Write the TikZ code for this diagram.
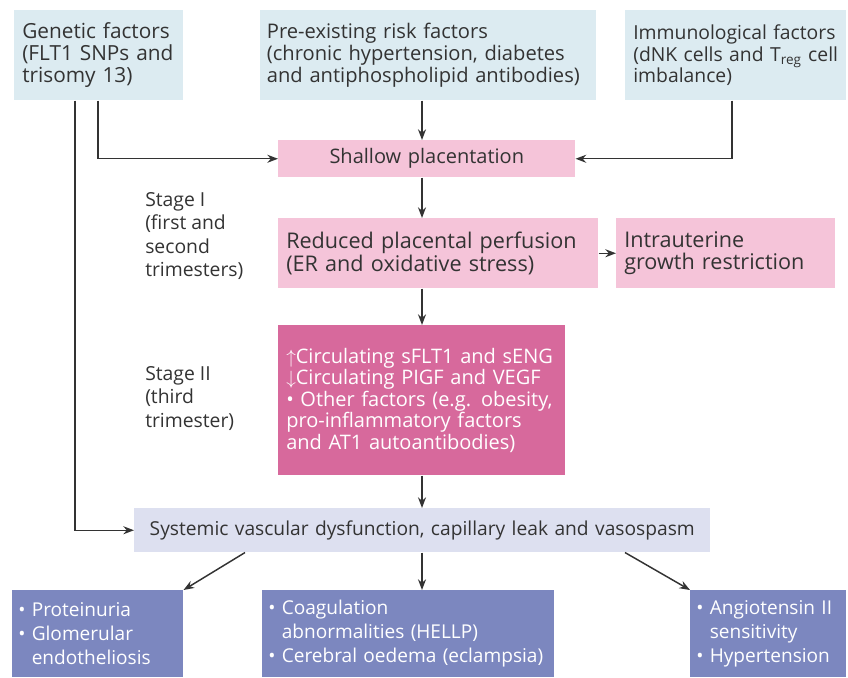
\documentclass[tikz,border=0pt]{standalone}
\usepackage{fontspec}
\setmainfont{Open Sans}
\usetikzlibrary{arrows.meta,positioning}
\definecolor{factorblue}{HTML}{DCEBF1}
\definecolor{placpink}{HTML}{F5C4D9}
\definecolor{stagepink}{HTML}{D7699C}
\definecolor{vascblue}{HTML}{DDE0F0}
\definecolor{organblue}{HTML}{7C87BF}
\definecolor{inkgrey}{HTML}{333333}
\newcommand{\itm}{\textbullet\ }
\newcommand{\cont}{\phantom{\textbullet\ }}

\begin{document}
\begin{tikzpicture}[x=0.75pt, y=-0.75pt, >={Stealth[length=8pt,width=6pt]},
    font=\fontsize{15}{16.2}\selectfont,
    box/.style={rectangle, anchor=north west, align=left, inner xsep=6pt, inner ysep=0pt, text=inkgrey},
    factor/.style={box, fill=factorblue, font=\fontsize{15.6}{16.4}\selectfont},
    plac/.style={box, fill=placpink, font=\fontsize{16.2}{17}\selectfont},
    stagebox/.style={box, fill=stagepink, text=white},
    organ/.style={box, fill=organblue, text=white, inner xsep=4.5pt, font=\fontsize{14.3}{18}\selectfont},
    label/.style={anchor=north west, align=left, inner sep=0pt, text=inkgrey, font=\fontsize{14.5}{17.6}\selectfont},
    link/.style={->, draw=inkgrey, line width=1.1pt}]
    \useasboundingbox (0,0) rectangle (848,677);
    % risk factors
    \node[factor, text width=114.75pt, minimum height=67.5pt] (gen) at (14,10) {Genetic factors\\(FLT1 SNPs and\\trisomy 13)};
    \node[factor, text width=242pt, minimum height=67.5pt, inner xsep=5pt, font=\fontsize{15.1}{16.4}\selectfont] (risk) at (260,10) {Pre-existing risk factors\\(chronic hypertension, diabetes\\and antiphospholipid antibodies)};
    \node[factor, text width=153.75pt, minimum height=67.5pt, font=\fontsize{14.5}{16.4}\selectfont] (immu) at (625,10) {Immunological factors\\(dNK cells and T\textsubscript{reg} cell\\imbalance)};
    % placenta
    \node[plac, align=center, text width=210.75pt, minimum height=27.75pt, font=\fontsize{15}{16}\selectfont] (shallow) at (278,140) {Shallow placentation};
    \node[plac, text width=228pt, minimum height=52.5pt] (perf) at (278,218) {Reduced placental perfusion\\(ER and oxidative stress)};
    \node[plac, text width=152.25pt, minimum height=52.5pt] (iugr) at (616,218) {Intrauterine\\growth restriction};
    \node[stagebox, text width=203.25pt, minimum height=112.5pt] (circ) at (278,325) {$\uparrow$Circulating sFLT1 and sENG\\$\downarrow$Circulating PIGF and VEGF\\\itm Other factors (e.g. obesity,\\pro-inflammatory factors\\and AT1 autoantibodies)};
    % stages
    \node[label] (st1) at (145,192) {Stage I\\(first and\\second\\trimesters)};
    \node[label] (st2) at (145,366) {Stage II\\(third\\trimester)};
    % outcome
    \node[box, fill=vascblue, align=center, text width=420pt, minimum height=33pt, font=\fontsize{14.4}{16}\selectfont] (sysv) at (134,508) {Systemic vascular dysfunction, capillary leak and vasospasm};
    \node[organ, text width=119.25pt, minimum height=65.25pt] (renal) at (12,590) {\itm Proteinuria\\\itm Glomerular\\\cont endotheliosis};
    \node[organ, text width=210pt, minimum height=65.25pt] (coag) at (262,590) {\itm Coagulation\\\cont abnormalities (HELLP)\\\itm Cerebral oedema (eclampsia)};
    \node[organ, text width=108pt, minimum height=65.25pt] (hyper) at (690,590) {\itm Angiotensin II\\\cont sensitivity\\\itm Hypertension};
    % connectors
    \coordinate (spine) at (422,0);
    \coordinate (g1) at (98,0);
    \coordinate (g2) at (75,0);
    \coordinate (im) at (732,0);
    \coordinate (l1) at (245,0);
    \coordinate (r1) at (625,0);
    \draw[link] (g1 |- gen.south) |- (shallow.west);
    \draw[link] (g2 |- gen.south) |- (sysv.west);
    \draw[link] (im |- immu.south) |- (shallow.east);
    \draw[link] (spine |- risk.south) -- (spine |- shallow.north);
    \draw[link] (spine |- shallow.south) -- (spine |- perf.north);
    \draw[link] (perf) -- (iugr);
    \draw[link] (spine |- perf.south) -- (spine |- circ.north);
    \draw[link] (spine |- circ.south) -- (spine |- sysv.north);
    \draw[link] (l1 |- sysv.south) -- (renal.north east);
    \draw[link] (spine |- sysv.south) -- (spine |- coag.north);
    \draw[link] (r1 |- sysv.south) -- (hyper.north west);
\end{tikzpicture}
\end{document}
